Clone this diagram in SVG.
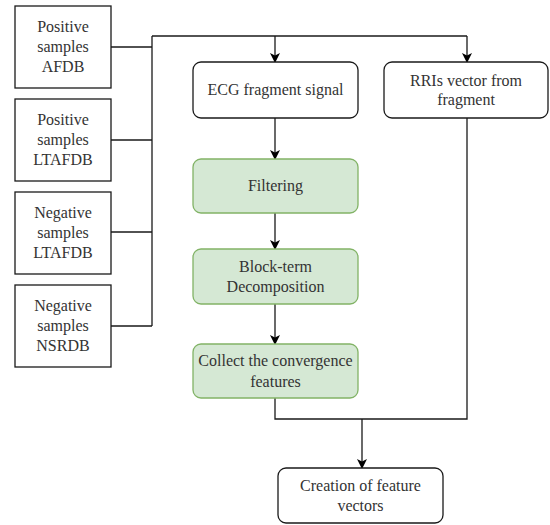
<svg xmlns="http://www.w3.org/2000/svg" width="550" height="525" viewBox="0 0 550 525">
<defs>
<style>
.box{fill:#ffffff;stroke:#1a1a1a;stroke-width:1.3}
.green{fill:#d5e8d4;stroke:#82b366;stroke-width:1.3}
.t{font-family:"Liberation Serif","Times New Roman",serif;font-size:16px;fill:#333333;text-anchor:middle}
.c{fill:none;stroke:#1a1a1a;stroke-width:1.3}
</style>
<marker id="arr" viewBox="0 0 10 10" refX="9" refY="5" markerWidth="10" markerHeight="10" markerUnits="userSpaceOnUse" orient="auto">
<path d="M0,0 L10,5 L0,10 L2.5,5 Z" fill="#000"/>
</marker>
</defs>
<rect width="550" height="525" fill="#ffffff"/>
<g id="connectors">
<path class="c" d="M111,47 H152 M111,140 H152 M111,232 H152 M111,326 H152 M152,326 V36"/>
<path class="c" d="M152,36 H467"/>
<path class="c" d="M275,36 V62" marker-end="url(#arr)"/>
<path class="c" d="M467,36 V62" marker-end="url(#arr)"/>
<path class="c" d="M275,118 V159" marker-end="url(#arr)"/>
<path class="c" d="M275,213 V249" marker-end="url(#arr)"/>
<path class="c" d="M275,304 V344" marker-end="url(#arr)"/>
<path class="c" d="M275,398 V419 H467 V118"/>
<path class="c" d="M362,419 V468" marker-end="url(#arr)"/>
</g>
<g id="pos-afdb">
<rect class="box" x="15" y="6" width="96" height="82"/>
<text class="t" x="63" y="32">Positive</text>
<text class="t" x="63" y="52">samples</text>
<text class="t" x="63" y="72">AFDB</text>
</g>
<g id="pos-ltafdb">
<rect class="box" x="15" y="99" width="96" height="82"/>
<text class="t" x="63" y="125">Positive</text>
<text class="t" x="63" y="145">samples</text>
<text class="t" x="63" y="165">LTAFDB</text>
</g>
<g id="neg-ltafdb">
<rect class="box" x="15" y="192" width="96" height="82"/>
<text class="t" x="63" y="218">Negative</text>
<text class="t" x="63" y="238">samples</text>
<text class="t" x="63" y="258">LTAFDB</text>
</g>
<g id="neg-nsrdb">
<rect class="box" x="15" y="285" width="96" height="82"/>
<text class="t" x="63" y="311">Negative</text>
<text class="t" x="63" y="331">samples</text>
<text class="t" x="63" y="351">NSRDB</text>
</g>
<g id="ecg">
<rect class="box" x="193" y="62" width="165" height="56" rx="8"/>
<text class="t" x="275.5" y="95">ECG fragment signal</text>
</g>
<g id="rris">
<rect class="box" x="384" y="62" width="164" height="56" rx="8"/>
<text class="t" x="466" y="86">RRIs vector from</text>
<text class="t" x="466" y="105">fragment</text>
</g>
<g id="filtering">
<rect class="green" x="193" y="159" width="165" height="54" rx="8"/>
<text class="t" x="275.5" y="191">Filtering</text>
</g>
<g id="btd">
<rect class="green" x="193" y="249" width="165" height="55" rx="8"/>
<text class="t" x="275.5" y="272">Block-term</text>
<text class="t" x="275.5" y="292">Decomposition</text>
</g>
<g id="collect">
<rect class="green" x="193" y="344" width="165" height="54" rx="8"/>
<text class="t" x="275.5" y="366">Collect the convergence</text>
<text class="t" x="275.5" y="387">features</text>
</g>
<g id="creation">
<rect class="box" x="278" y="468" width="165" height="55" rx="8"/>
<text class="t" x="360.5" y="491">Creation of feature</text>
<text class="t" x="360.5" y="511">vectors</text>
</g>
</svg>
